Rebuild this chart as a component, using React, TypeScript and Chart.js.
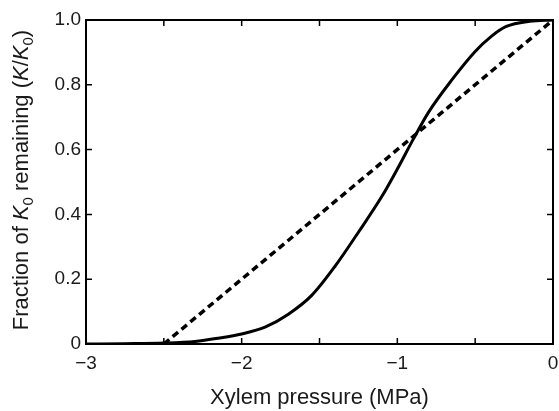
import React, { useEffect, useRef } from 'react';
import { Chart, registerables } from 'chart.js';

Chart.register(...registerables);

// ---- data ----
const pressure = [-3, -2.75, -2.5, -2.3, -2.15, -2.0, -1.85, -1.7, -1.55, -1.4, -1.25, -1.1, -1.0, -0.9, -0.8, -0.65, -0.5, -0.4, -0.3, -0.15, 0];
const fraction = [0, 0.001, 0.003, 0.008, 0.018, 0.031, 0.052, 0.092, 0.15, 0.24, 0.345, 0.455, 0.54, 0.63, 0.715, 0.815, 0.903, 0.948, 0.98, 0.996, 1.0];
const linearPressure = [-2.5, 0];
const linearFraction = [0, 1];
const xMajorTicks = [-3, -2, -1, 0];
const xMinorTicks = [-2.5, -1.5, -0.5];
const yTicks = [0, 0.2, 0.4, 0.6, 0.8, 1.0];
const xTitle = 'Xylem pressure (MPa)';
const yTitleParts = [
  { t: 'Fraction of ', s: 'n' },
  { t: 'K', s: 'i' },
  { t: '0', s: 'sub' },
  { t: ' remaining (', s: 'n' },
  { t: 'K', s: 'i' },
  { t: '/', s: 'n' },
  { t: 'K', s: 'i' },
  { t: '0', s: 'sub' },
  { t: ')', s: 'n' },
];

const FAMILY = '"Liberation Sans", Arial, Helvetica, sans-serif';
const TEXT = '#1a1a1a';
const TITLE_SIZE = 22;
const TICK_SIZE = 19;

const fontFor = (s: string) => {
  if (s === 'i') return `italic ${TITLE_SIZE}px ${FAMILY}`;
  if (s === 'sub') return `${Math.round(TITLE_SIZE * 0.7)}px ${FAMILY}`;
  return `${TITLE_SIZE}px ${FAMILY}`;
};

const framePlugin = {
  id: 'frame',
  afterDatasetsDraw(chart: any) {
    const { ctx, chartArea: a, scales } = chart;
    const x = scales.x;
    const y = scales.y;
    ctx.save();
    ctx.strokeStyle = '#000';
    ctx.lineWidth = 2;
    ctx.strokeRect(a.left, a.top, a.right - a.left, a.bottom - a.top);
    ctx.lineWidth = 1.5;
    const L = 6;
    ctx.beginPath();
    [...xMajorTicks, ...xMinorTicks].forEach((v) => {
      const px = x.getPixelForValue(v);
      ctx.moveTo(px, a.bottom);
      ctx.lineTo(px, a.bottom - L);
      ctx.moveTo(px, a.top);
      ctx.lineTo(px, a.top + L);
    });
    yTicks.forEach((v) => {
      const py = y.getPixelForValue(v);
      ctx.moveTo(a.left, py);
      ctx.lineTo(a.left + L, py);
      ctx.moveTo(a.right, py);
      ctx.lineTo(a.right - L, py);
    });
    ctx.stroke();

    // y-axis title with italic K and subscript 0
    let total = 0;
    yTitleParts.forEach((p) => {
      ctx.font = fontFor(p.s);
      total += ctx.measureText(p.t).width;
    });
    const cy = (a.top + a.bottom) / 2 - 2;
    ctx.translate(28, cy);
    ctx.rotate(-Math.PI / 2);
    ctx.fillStyle = TEXT;
    ctx.textBaseline = 'alphabetic';
    ctx.textAlign = 'left';
    let cx = -total / 2;
    yTitleParts.forEach((p) => {
      ctx.font = fontFor(p.s);
      const dy = p.s === 'sub' ? TITLE_SIZE * 0.22 : 0;
      ctx.fillText(p.t, cx, dy);
      cx += ctx.measureText(p.t).width;
    });
    ctx.restore();
  },
};

export default function App() {
  const ref = useRef<HTMLCanvasElement | null>(null);

  useEffect(() => {
    if (!ref.current) return;
    Chart.defaults.font.family = FAMILY;
    Chart.defaults.color = TEXT;
    const chart = new Chart(ref.current, {
      type: 'line',
      data: {
        datasets: [
          {
            label: 'K/K0',
            data: pressure.map((p, i) => ({ x: p, y: fraction[i] })),
            borderColor: '#000',
            borderWidth: 3,
            pointRadius: 0,
            cubicInterpolationMode: 'monotone',
            fill: false,
          },
          {
            label: 'linear',
            data: linearPressure.map((p, i) => ({ x: p, y: linearFraction[i] })),
            borderColor: '#000',
            borderWidth: 3.5,
            borderDash: [7, 4.5],
            pointRadius: 0,
            fill: false,
          },
        ],
      },
      options: {
        responsive: false,
        animation: false,
        events: [],
        layout: { padding: { left: 0, right: 6, top: 20, bottom: 0 } },
        plugins: { legend: { display: false }, tooltip: { enabled: false }, title: { display: false } },
        scales: {
          x: {
            type: 'linear',
            min: -3,
            max: 0,
            grid: { display: false, drawTicks: false },
            border: { display: false },
            ticks: {
              stepSize: 1,
              padding: 8,
              font: { size: TICK_SIZE },
              color: TEXT,
              maxRotation: 0,
              callback: (v: any) => (Number(v) === 0 ? '0' : '\u2212' + Math.abs(Number(v))),
            },
            title: {
              display: true,
              text: xTitle,
              font: { size: TITLE_SIZE },
              color: TEXT,
              padding: { top: 0, bottom: 0 },
            },
            afterFit: (s: any) => {
              s.height = 67;
              s.paddingLeft = 0;
              s.paddingRight = 0;
            },
          },
          y: {
            type: 'linear',
            min: 0,
            max: 1,
            grid: { display: false, drawTicks: false },
            border: { display: false },
            ticks: {
              stepSize: 0.2,
              padding: 5,
              font: { size: TICK_SIZE },
              color: TEXT,
              callback: (v: any) => (Number(v) === 0 ? '0' : Number(v).toFixed(1)),
            },
            afterFit: (s: any) => {
              s.width = 86;
              s.paddingTop = 0;
              s.paddingBottom = 0;
            },
          },
        },
      },
      plugins: [framePlugin],
    } as any);
    return () => chart.destroy();
  }, []);

  return (
    <div style={{ position: 'fixed', left: 0, top: 0, width: 559, height: 411, background: '#fff' }}>
      <canvas ref={ref} width={559} height={411} style={{ display: 'block' }} />
    </div>
  );
}
